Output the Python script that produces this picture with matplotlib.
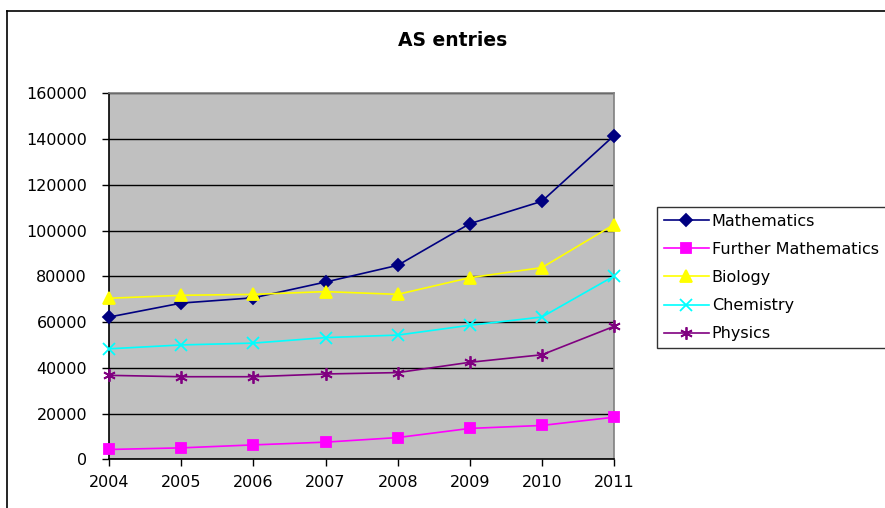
import matplotlib
matplotlib.use("Agg")
import matplotlib.pyplot as plt
from matplotlib.lines import Line2D

years = [2004, 2005, 2006, 2007, 2008, 2009, 2010, 2011]
mathematics = [62200, 68300, 70600, 77500, 84800, 103000, 112800, 141500]
further_maths = [4300, 5000, 6300, 7500, 9500, 13500, 14800, 18400]
biology = [70400, 71700, 72100, 73300, 72100, 79400, 83800, 102600]
chemistry = [48300, 50000, 50800, 53200, 54300, 58600, 62200, 80100]
physics = [36700, 36100, 36100, 37300, 37900, 42400, 45700, 58100]
yticks = [0, 20000, 40000, 60000, 80000, 100000, 120000, 140000, 160000]

plt.rcParams['font.family'] = ['DejaVu Sans']

W, H = 885, 508
fig = plt.figure(figsize=(W / 100, H / 100), dpi=100)
fig.patch.set_facecolor('white')

# outer chart frame
fig.add_artist(Line2D([7 / W, 7 / W], [0, 1 - 11 / H], transform=fig.transFigure, color='black', lw=1.2))
fig.add_artist(Line2D([7 / W, 1], [1 - 11 / H, 1 - 11 / H], transform=fig.transFigure, color='black', lw=1.2))

left, right = 109.3 / W, 614 / W
bottom, top = (H - 459.3) / H, (H - 93.3) / H
ax = fig.add_axes([left, bottom, right - left, top - bottom])
ax.set_facecolor('#C0C0C0')

series = [
    ("Mathematics", mathematics, '#000080', 'D', 6),
    ("Further Mathematics", further_maths, '#FF00FF', 's', 7),
    ("Biology", biology, '#FFFF00', '^', 8.5),
    ("Chemistry", chemistry, '#00FFFF', 'x', 8),
    ("Physics", physics, '#800080', (6, 2, 0), 9),
]
for name, vals, col, mk, ms in series:
    ax.plot(years, vals, color=col, lw=1.2, marker=mk, markersize=ms,
            markerfacecolor=col, markeredgecolor=col, markeredgewidth=1.3,
            label=name, clip_on=False, zorder=3)

ax.set_xlim(2004, 2011)
ax.set_ylim(0, 160000)
ax.set_yticks(yticks)
ax.set_yticklabels([str(v) for v in yticks])
ax.set_xticks(years)
ax.set_xticklabels([str(y) for y in years])
ax.yaxis.grid(True, color='black', lw=1.0)
ax.set_axisbelow(True)
ax.tick_params(axis='both', direction='out', length=5, width=1, colors='black',
               labelsize=11.5, pad=11)
ax.tick_params(axis='x', pad=6)
for s in ['top', 'right']:
    ax.spines[s].set_color('#808080')
    ax.spines[s].set_linewidth(1.2)
for s in ['left', 'bottom']:
    ax.spines[s].set_color('black')
    ax.spines[s].set_linewidth(1.2)

fig.text(453 / W, 1 - 40 / H, "AS entries", ha='center', va='center',
         fontsize=13.5, fontweight='bold')

leg = fig.legend(loc='upper left', bbox_to_anchor=(656.7 / W, 1 - 206.7 / H),
                 frameon=True, fontsize=11.5, handlelength=2.8, handletextpad=0.2,
                 labelspacing=0.82, borderpad=0.45, borderaxespad=0, fancybox=False)
leg.get_frame().set_edgecolor('black')
leg.get_frame().set_linewidth(1.0)

fig.savefig('out.png', dpi=100)
